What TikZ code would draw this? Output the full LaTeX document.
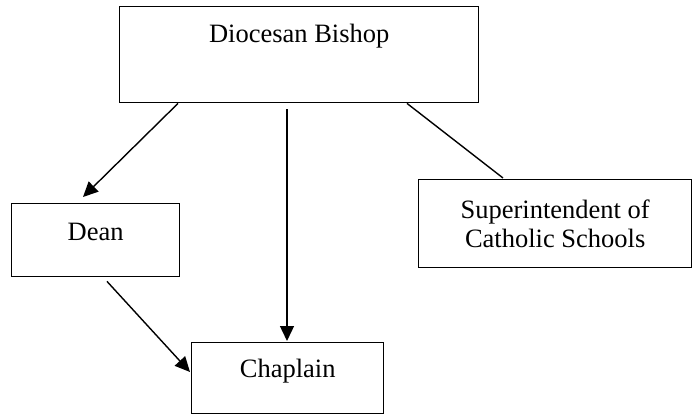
\documentclass[tikz,border=0pt]{standalone}
\usepackage{fontspec}
\setmainfont{Liberation Serif}
\usetikzlibrary{arrows.meta,calc,positioning}

\begin{document}
\begin{tikzpicture}[x=1pt,y=-1pt,line width=1.4pt,>={Triangle[length=15pt,width=14pt]},
                    box/.style={draw,rectangle,inner sep=0pt,anchor=north west,font=\fontsize{26.5}{29}\selectfont}]
  \useasboundingbox (0,0) rectangle (693,414);

  \node[box,minimum width=359pt,text height=36pt,text depth=60pt] (bishop) at (119,6) {Diocesan Bishop};
  \node[box,minimum width=168pt,text height=37pt,text depth=36pt] (dean) at (11,203) {Dean};
  \node[box,minimum width=273pt,minimum height=88pt,align=center] (super) at (418,179) {Superintendent of\\Catholic Schools};
  \node[box,minimum width=192pt,text height=35pt,text depth=36pt] (chaplain) at (191,342) {Chaplain};

  \draw[->] ($(bishop.south west)+(59,0)$) -- ($(dean.north west)+(72,-6)$);
  \draw[->] ($(bishop.south west)+(168,6)$) -- ($(chaplain.north west)+(96,-1)$);
  \draw ($(bishop.south west)+(288,0)$) -- ($(super.north west)+(85,-1)$);
  \draw[->] ($(dean.south west)+(96,4)$) -- ($(chaplain.north west)+(-1,30)$);

\end{tikzpicture}
\end{document}
